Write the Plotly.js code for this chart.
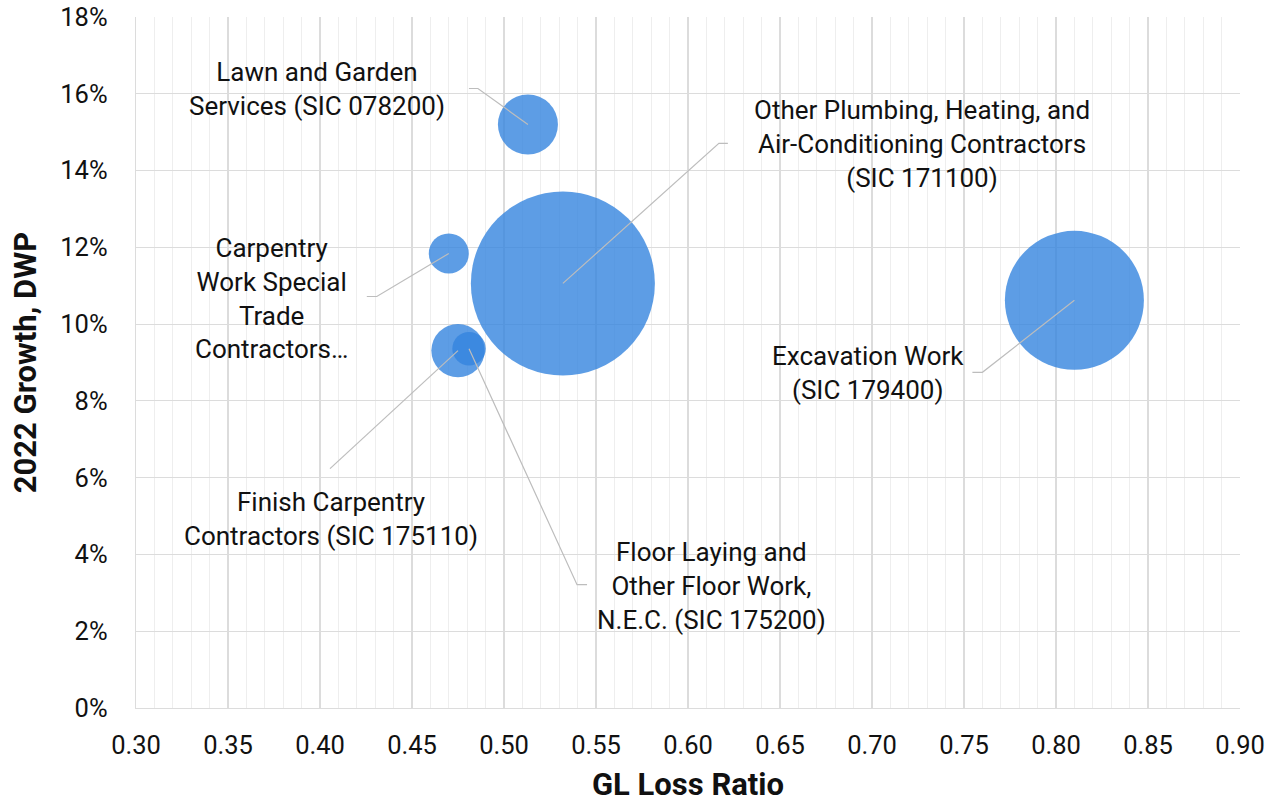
<!DOCTYPE html>
<html>
<head>
<meta charset="utf-8">
<script src="https://cdn.plot.ly/plotly-3.0.1.min.js"></script>
<style>
  html, body { margin: 0; padding: 0; background: #fff; }
  #chart { width: 1268px; height: 809px; }
</style>
</head>
<body>
<div id="chart"></div>
<script>
// Class codes: GL loss ratio vs. 2022 DWP growth, bubble area = DWP volume
const classLabels = [
  'Lawn and Garden<br>Services (SIC 078200)',
  'Other Plumbing, Heating, and<br>Air-Conditioning Contractors<br>(SIC 171100)',
  'Carpentry<br>Work Special<br>Trade<br>Contractors\u2026',
  'Finish Carpentry<br>Contractors (SIC 175110)',
  'Floor Laying and<br>Other Floor Work,<br>N.E.C. (SIC 175200)',
  'Excavation Work<br>(SIC 179400)'
];
const glLossRatio = [0.513, 0.532, 0.470, 0.475, 0.481, 0.810];
const dwpGrowth   = [0.152, 0.1106, 0.1184, 0.0931, 0.0936, 0.1062];
const dwpVolume   = [9.0, 84.6, 4.0, 7.1, 2.8, 48.3];

const xTickVals = [0.30, 0.35, 0.40, 0.45, 0.50, 0.55, 0.60, 0.65, 0.70, 0.75, 0.80, 0.85, 0.90];
const yTickVals = [0, 0.02, 0.04, 0.06, 0.08, 0.10, 0.12, 0.14, 0.16, 0.18];

// Label placement: text centre offset and leader-line path (screen px, y down)
const labelStyle = [
  { dx: -211, dy: -35, leader: [[0, 0], [-50, -36], [-59, -36]] },
  { dx: 359,  dy: -139, leader: [[0, 0], [156, -140], [165, -140]] },
  { dx: -177, dy: 45,  leader: [[0, 0], [-72, 43], [-82, 43]] },
  { dx: -127, dy: 168, leader: [[0, 0], [-128, 118]] },
  { dx: 242,  dy: 237, leader: [[0, 0], [108, 236], [118, 236]] },
  { dx: -206, dy: 73,  leader: [[0, 0], [-92, 72], [-102, 72]] }
];

const FONT = 'Roboto, "Open Sans", sans-serif';
const maxDiameter = 184;
const sizeRef = 2 * Math.max(...dwpVolume) / (maxDiameter * maxDiameter);

const trace = {
  type: 'scatter',
  mode: 'markers',
  x: glLossRatio,
  y: dwpGrowth,
  text: classLabels,
  hoverinfo: 'text',
  marker: {
    size: dwpVolume,
    sizemode: 'area',
    sizeref: sizeRef,
    color: 'rgb(53,132,223)',
    opacity: 0.8,
    line: { width: 0 }
  },
  cliponaxis: false
};

const annotations = classLabels.map((t, i) => ({
  x: glLossRatio[i], y: dwpGrowth[i], xref: 'x', yref: 'y',
  text: t, showarrow: false,
  xshift: labelStyle[i].dx, yshift: -labelStyle[i].dy,
  xanchor: 'center', yanchor: 'middle', align: 'center',
  font: { family: FONT, size: 26, color: '#111' }
}));

const shapes = labelStyle.map((s, i) => ({
  type: 'path',
  xref: 'x', yref: 'y',
  xsizemode: 'pixel', ysizemode: 'pixel',
  xanchor: glLossRatio[i], yanchor: dwpGrowth[i],
  path: s.leader.map((p, k) => (k ? 'L' : 'M') + p[0] + ',' + (-p[1])).join(''),
  line: { color: '#BDBDBD', width: 1.2 },
  layer: 'above'
}));

const layout = {
  width: 1268, height: 809,
  margin: { l: 136, r: 28, t: 17, b: 101 },
  paper_bgcolor: '#fff', plot_bgcolor: '#fff',
  showlegend: false,
  font: { family: FONT, color: '#111' },
  xaxis: {
    range: [0.30, 0.90],
    tickvals: xTickVals,
    tickformat: '.2f',
    tickfont: { family: FONT, size: 25.5, color: '#111' },
    showgrid: true, gridcolor: '#DCDCDC', gridwidth: 1.1,
    minor: { dtick: 0.01, showgrid: true, gridcolor: '#EEEEEE', gridwidth: 1 },
    zeroline: false,
    showline: true, linecolor: '#DCDCDC', linewidth: 1.3,
    ticks: '', ticklabelstandoff: 14,
    title: { text: '<b>GL Loss Ratio</b>', font: { family: FONT, size: 31, color: '#111' }, standoff: 14 }
  },
  yaxis: {
    range: [0, 0.18],
    tickvals: yTickVals,
    tickformat: '.0%',
    tickfont: { family: FONT, size: 25.5, color: '#111' },
    showgrid: true, gridcolor: '#DCDCDC', gridwidth: 1.1,
    zeroline: false,
    showline: true, linecolor: '#DCDCDC', linewidth: 1.3,
    ticks: '', ticklabelstandoff: 22,
    title: { text: '<b>2022 Growth, DWP</b>', font: { family: FONT, size: 31, color: '#111' }, standoff: 14 }
  },
  annotations: annotations,
  shapes: shapes
};

Plotly.newPlot('chart', [trace], layout, { displayModeBar: false, staticPlot: true });
</script>
</body>
</html>
